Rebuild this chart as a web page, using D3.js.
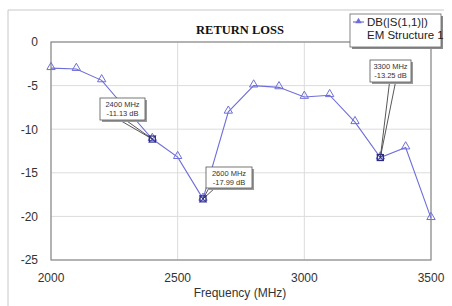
<!DOCTYPE html>
<html>
<head>
<meta charset="utf-8">
<script src="https://cdn.jsdelivr.net/npm/d3@7"></script>
<style>
  body { margin: 0; background: #fff; }
  text { font-family: "Liberation Sans", Arial, sans-serif; }
  text.title { font-family: "Liberation Serif", "Times New Roman", serif; }
</style>
</head>
<body>
<svg id="chart" width="452" height="306"></svg>
<script>
// data
var FREQ = [2000, 2100, 2200, 2300, 2400, 2500, 2600, 2700, 2800, 2900, 3000, 3100, 3200, 3300, 3400, 3500];
var DB = [-3.0, -3.1, -4.4, -7.8, -11.13, -13.2, -17.99, -8.0, -5.0, -5.2, -6.3, -6.1, -9.2, -13.25, -12.1, -20.2];
var X_TICKS = [2000, 2500, 3000, 3500];
var Y_TICKS = [0, -5, -10, -15, -20, -25];
var MARKERS = [2400, 2600, 3300];
var LEGEND = ["DB(|S(1,1)|)", "EM Structure 1"];

var LINE_COLOR = "#6e6ed8";
var svg = d3.select("#chart");

var x = d3.scaleLinear().domain([2000, 3500]).range([51, 431]);
var y = d3.scaleLinear().domain([0, -25]).range([42, 260]);

// outer frame (only left and top show)
svg.append("path").attr("d", "M8,306V10H444").attr("fill", "none").attr("stroke", "#c8c8c8");

// grid
svg.append("g").selectAll("line").data(X_TICKS).enter().append("line")
  .attr("x1", d => x(d)).attr("x2", d => x(d)).attr("y1", y(0)).attr("y2", y(-25))
  .attr("stroke", "#dcdcdc");
svg.append("g").selectAll("line").data(Y_TICKS).enter().append("line")
  .attr("x1", x(2000)).attr("x2", x(3500)).attr("y1", d => y(d)).attr("y2", d => y(d))
  .attr("stroke", "#dcdcdc");

svg.append("rect").attr("x", x(2000)).attr("y", y(0))
  .attr("width", x(3500) - x(2000)).attr("height", y(-25) - y(0))
  .attr("fill", "none").attr("stroke", "#8c8c8c").attr("stroke-width", 1.2);

// tick labels
svg.append("g").selectAll("text").data(Y_TICKS).enter().append("text")
  .attr("x", 38).attr("y", d => y(d)).attr("dy", "0.36em").attr("text-anchor", "end")
  .attr("font-size", 12).attr("fill", "#333").text(d => d);
svg.append("g").selectAll("text").data(X_TICKS).enter().append("text")
  .attr("x", d => x(d)).attr("y", 278).attr("dy", "0.36em").attr("text-anchor", "middle")
  .attr("font-size", 12).attr("fill", "#333").text(d => d);

svg.append("text").attr("x", 240).attr("y", 293).attr("dy", "0.36em").attr("text-anchor", "middle")
  .attr("font-size", 12).attr("fill", "#333").text("Frequency (MHz)");
svg.append("text").attr("class", "title").attr("x", 240).attr("y", 34).attr("text-anchor", "middle")
  .attr("font-weight", "bold").attr("font-size", 12.5).attr("fill", "#111").text("RETURN LOSS");

// series
var pts = FREQ.map((f, i) => [f, DB[i]]);
svg.append("path").datum(pts)
  .attr("d", d3.line().x(d => x(d[0])).y(d => y(d[1])))
  .attr("fill", "none").attr("stroke", LINE_COLOR).attr("stroke-width", 1.1);

var tri = d3.symbol().type(d3.symbolTriangle).size(30);
svg.append("g").selectAll("path").data(pts).enter().append("path")
  .attr("d", tri).attr("transform", d => "translate(" + x(d[0]) + "," + (y(d[1]) - 1) + ")")
  .attr("fill", "none").attr("stroke", LINE_COLOR).attr("stroke-width", 1);

// marker callouts
var boxes = {2400: [100, 98, 45, 22, "r"], 2600: [206, 167, 46, 21, "l"], 3300: [370, 60, 41, 22, "m"]};
MARKERS.forEach(function(f) {
  var v = DB[FREQ.indexOf(f)];
  var px = x(f), py = y(v);
  var b = boxes[f];
  var ax = b[4] == "r" ? b[0] + b[2] * 0.5 : (b[4] == "l" ? b[0] + 6 : b[0] + b[2] * 0.55);
  var ay = b[1] + b[3];
  svg.append("path")
    .attr("d", "M" + (ax - 3) + "," + ay + "L" + px + "," + py + "L" + (ax + 3) + "," + ay)
    .attr("fill", "none").attr("stroke", "#444").attr("stroke-width", 0.9);
  svg.append("rect").attr("x", b[0] + 2).attr("y", b[1] + 2).attr("width", b[2]).attr("height", b[3])
    .attr("fill", "#9a9a9a");
  svg.append("rect").attr("x", b[0]).attr("y", b[1]).attr("width", b[2]).attr("height", b[3])
    .attr("fill", "#fff").attr("stroke", "#555").attr("stroke-width", 0.8);
  svg.append("text").attr("x", b[0] + b[2] / 2).attr("y", b[1] + 8.5)
    .attr("text-anchor", "middle").attr("font-size", 7.5).attr("fill", "#333").text(f + " MHz");
  svg.append("text").attr("x", b[0] + b[2] / 2).attr("y", b[1] + 17.5)
    .attr("text-anchor", "middle").attr("font-size", 7.5).attr("fill", "#333").text(v.toFixed(2) + " dB");
  svg.append("rect").attr("x", px - 3).attr("y", py - 3).attr("width", 6).attr("height", 6)
    .attr("fill", "none").attr("stroke", "#2a2a80").attr("stroke-width", 1.2);
  svg.append("path").attr("d", "M" + (px - 3.5) + "," + (py - 3.5) + "l7,7M" + (px + 3.5) + "," + (py - 3.5) + "l-7,7")
    .attr("stroke", "#2a2a80").attr("stroke-width", 0.9);
});

// legend
var lg = svg.append("g");
lg.append("rect").attr("x", 352).attr("y", 16).attr("width", 91).attr("height", 33).attr("fill", "#8a8a8a");
lg.append("rect").attr("x", 350).attr("y", 14).attr("width", 91).attr("height", 33)
  .attr("fill", "#fff").attr("stroke", "#666").attr("stroke-width", 0.8);
lg.append("line").attr("x1", 353).attr("x2", 364).attr("y1", 22).attr("y2", 22)
  .attr("stroke", LINE_COLOR).attr("stroke-width", 1.2);
lg.append("path").attr("d", d3.symbol().type(d3.symbolTriangle).size(18))
  .attr("transform", "translate(358.5,21.5)").attr("fill", LINE_COLOR);
lg.selectAll("text.l").data(LEGEND).enter().append("text")
  .attr("x", 367).attr("y", (d, i) => 26 + i * 13)
  .attr("font-size", 11.5).attr("fill", "#222").text(d => d);
</script>
</body>
</html>
